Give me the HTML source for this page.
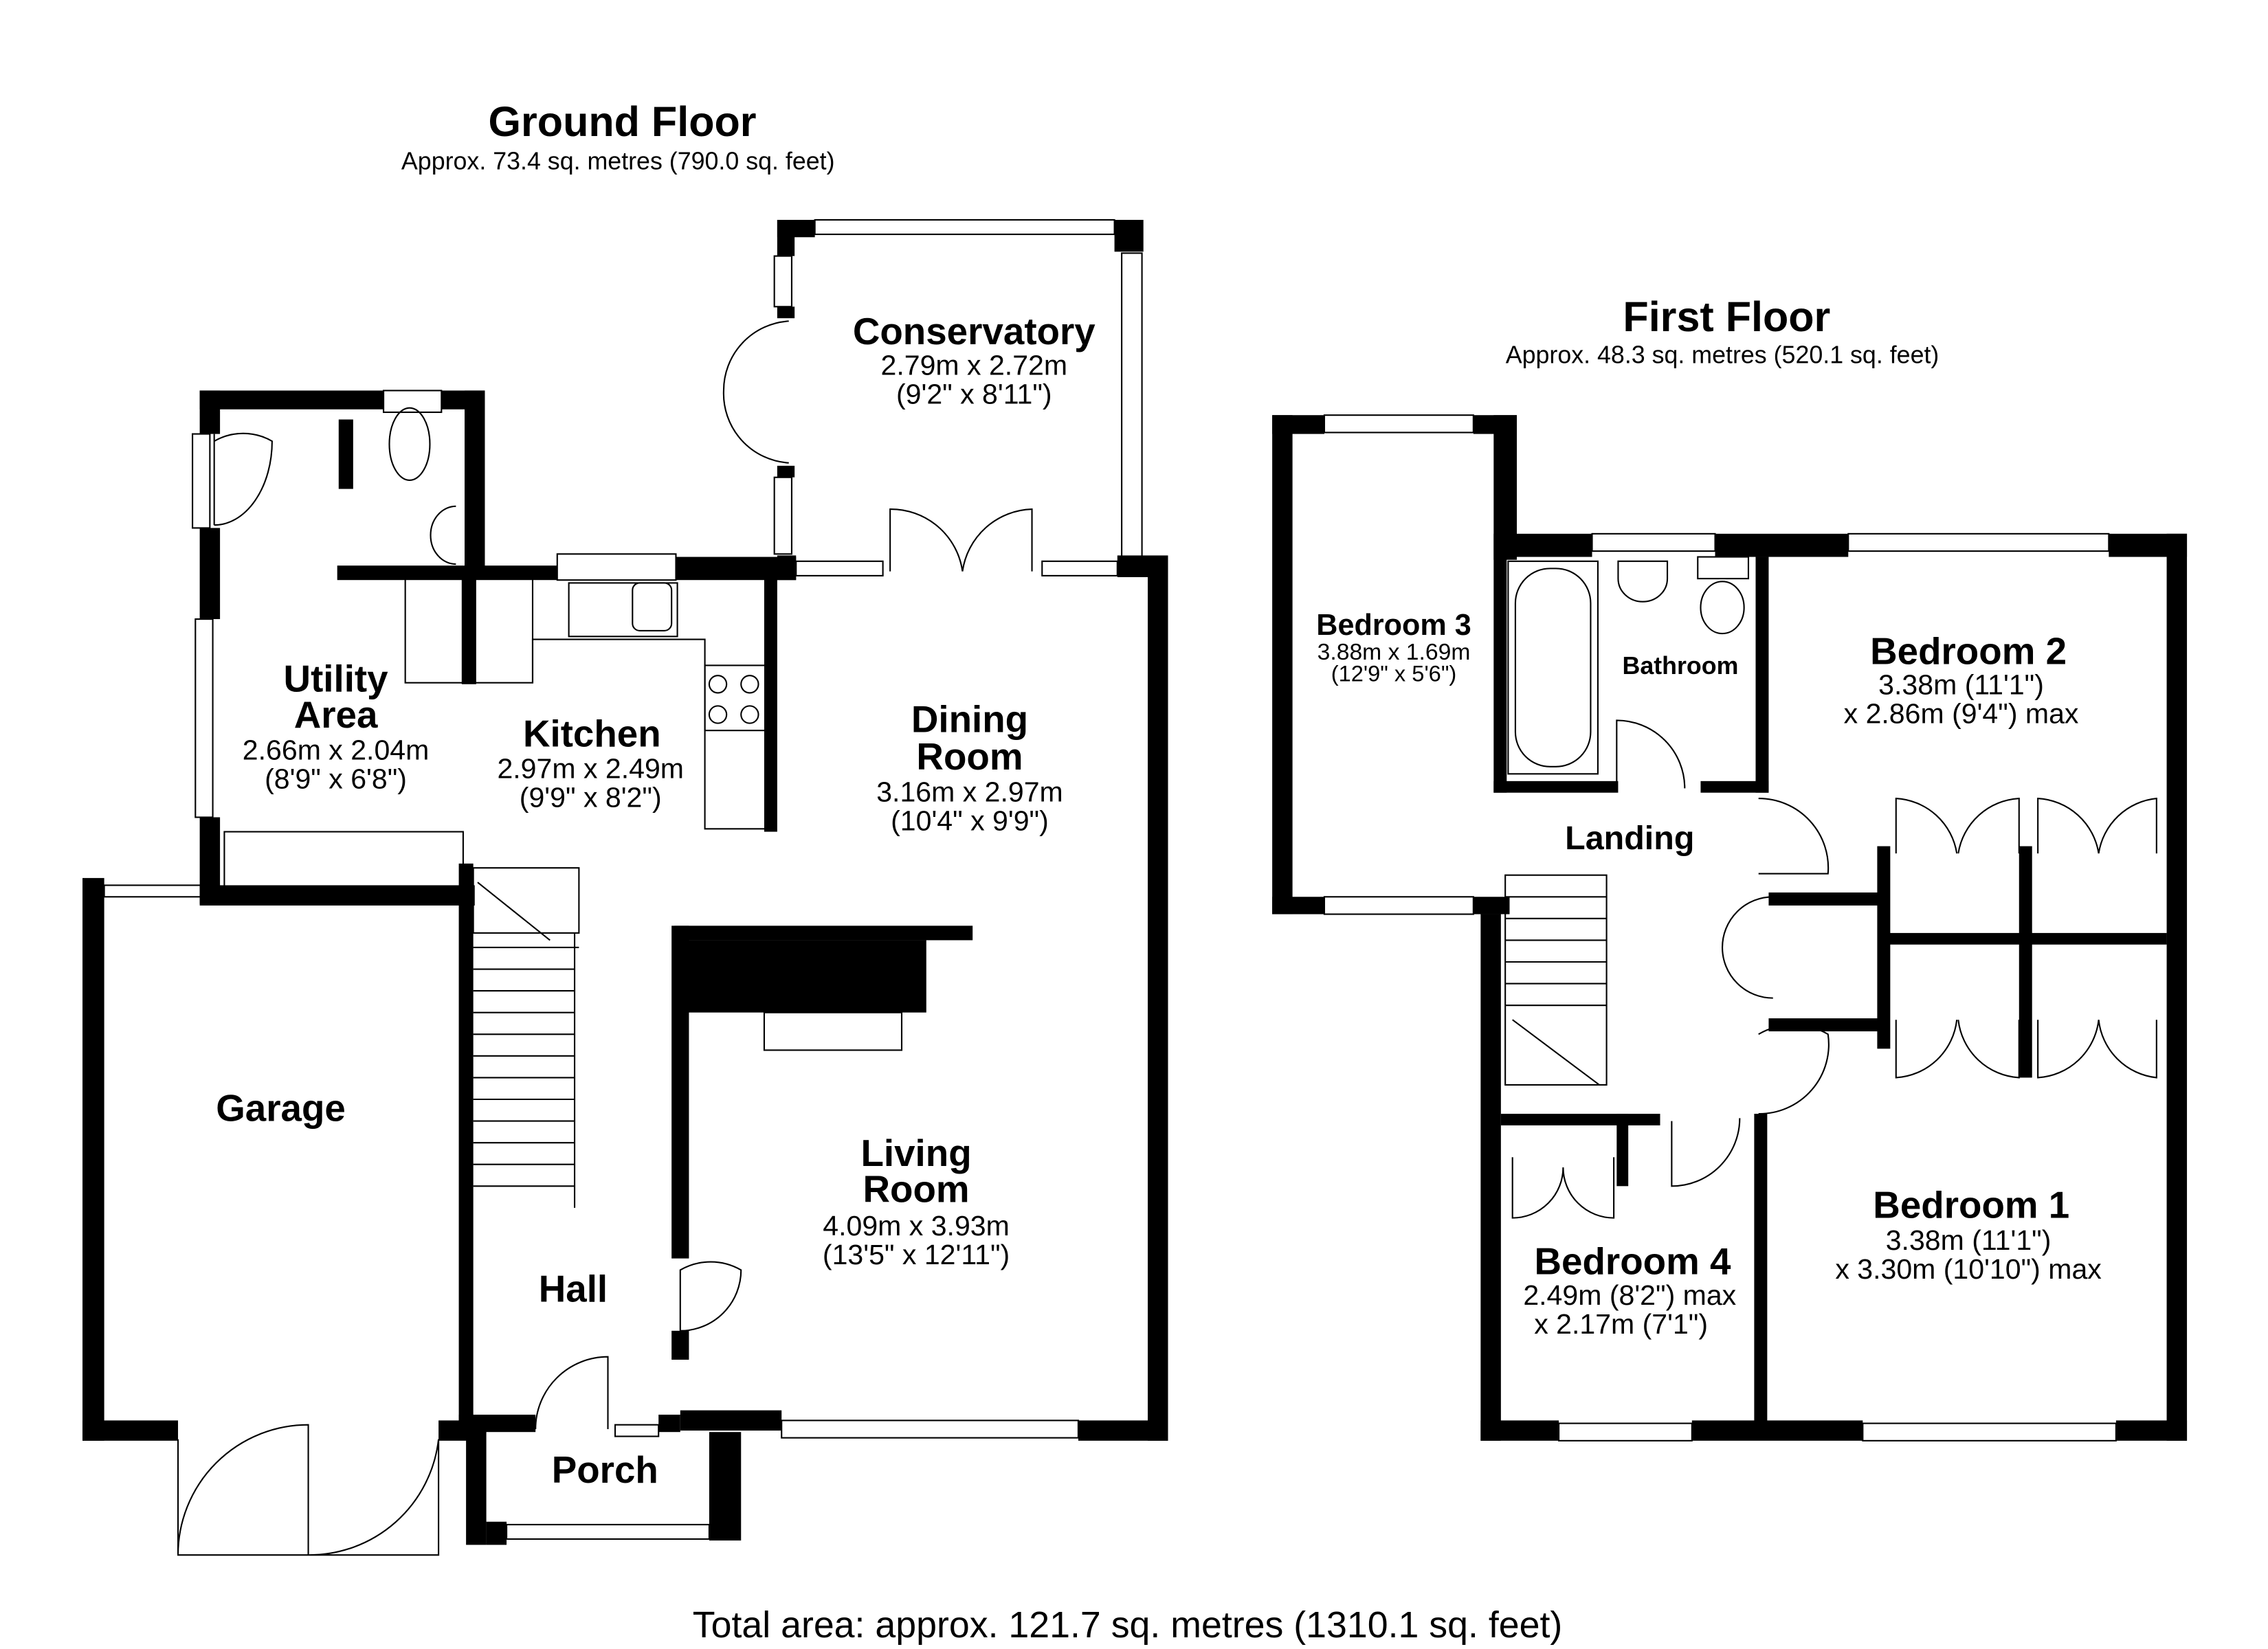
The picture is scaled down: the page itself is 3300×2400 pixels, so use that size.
<!DOCTYPE html>
<html><head><meta charset="utf-8"><style>
html,body{margin:0;padding:0;background:#fff}
svg{display:block}
text{font-family:"Liberation Sans",Arial,sans-serif;fill:#000;text-anchor:middle}
.t{font-weight:bold;font-size:26px}
.d{font-size:19.5px}
.s{font-size:17px}
</style></head><body>
<svg width="3300" height="2400" viewBox="0 0 1567 1140" preserveAspectRatio="none" xmlns="http://www.w3.org/2000/svg">
<rect width="1567" height="1140" fill="#fff"/>
<g fill="none" stroke="#000" stroke-width="1">
<rect x="385" y="383" width="82" height="18"/>
<rect x="393" y="403" width="75" height="37"/>
<rect x="280" y="400" width="88" height="72"/>
<polyline points="368,472 368,442 487,442 487,573 530,573"/>
<rect x="487" y="460" width="42" height="45"/>
<circle cx="496" cy="473" r="6"/><circle cx="518" cy="473" r="6"/><circle cx="496" cy="494" r="6"/><circle cx="518" cy="494" r="6"/>
<rect x="437" y="403" width="27" height="33" rx="5"/>
<rect x="155" y="575" width="165" height="45"/>
<rect x="265" y="270" width="40" height="15"/>
<ellipse cx="283" cy="307" rx="14" ry="25"/>
<path d="M315,350 a14,16 0 1,0 0,40"/>
<path d="M148,300 L148,363 M148,305 a40,40 0 0,1 40,0 L188,305 a40,58 0 0,1 -40,58"/>
<rect x="135" y="428" width="12" height="137"/><rect x="133" y="300" width="12" height="65"/>
<rect x="563" y="152" width="207" height="10"/>
<rect x="775" y="175" width="14" height="212"/>
<rect x="535" y="177" width="12" height="35"/><rect x="535" y="330" width="12" height="53"/>
<path d="M545,222 a48,48 0 0,0 -45,48 a48,48 0 0,0 45,50"/>
<rect x="550" y="388" width="60" height="10"/><rect x="720" y="388" width="52" height="10"/>
<path d="M615,395 L615,352 a50,50 0 0,1 50,43 M713,395 L713,352 a50,50 0 0,0 -48,43"/>
<rect x="327" y="600" width="73" height="45"/>
<g stroke-width="1">
<line x1="327" y1="655" x2="400" y2="655"/><line x1="327" y1="670" x2="397" y2="670"/><line x1="327" y1="685" x2="397" y2="685"/><line x1="327" y1="700" x2="397" y2="700"/><line x1="327" y1="715" x2="397" y2="715"/><line x1="327" y1="730" x2="397" y2="730"/><line x1="327" y1="745" x2="397" y2="745"/><line x1="327" y1="760" x2="397" y2="760"/><line x1="327" y1="775" x2="397" y2="775"/><line x1="327" y1="790" x2="397" y2="790"/><line x1="327" y1="805" x2="397" y2="805"/><line x1="327" y1="820" x2="397" y2="820"/>
<line x1="397" y1="645" x2="397" y2="835"/><line x1="330" y1="610" x2="380" y2="650"/>
</g>
<rect x="528" y="700" width="95" height="26"/>
<rect x="540" y="982" width="205" height="12"/>
<path d="M470,920 L470,878 a42,42 0 0,1 42,0 a42,42 0 0,1 -42,42"/>
<path d="M370,988 a50,50 0 0,1 50,-50 L420,988"/>
<rect x="350" y="1054" width="140" height="10"/>
<rect x="425" y="985" width="30" height="8"/>
<rect x="72" y="612" width="68" height="8"/>
<path d="M123,995 L123,1075 L213,1075 L213,985 A90,90 0 0,0 123,1075 M303,995 L303,1075 L213,1075 A90,90 0 0,0 303,995"/>
<rect x="915" y="287" width="103" height="12"/><rect x="915" y="620" width="103" height="12"/>
<rect x="1100" y="369" width="85" height="12"/><rect x="1277" y="369" width="180" height="12"/>
<rect x="1077" y="984" width="92" height="12"/><rect x="1287" y="984" width="175" height="12"/>
<rect x="1042" y="388" width="62" height="147"/><rect x="1047" y="393" width="52" height="137" rx="24"/>
<path d="M1118,388 L1152,388 L1152,400 a16,15 0 1,1 -34,0 Z"/>
<rect x="1173" y="385" width="35" height="15"/><ellipse cx="1190" cy="420" rx="15" ry="18"/>
<path d="M1117,545 L1117,498 a47,47 0 0,1 47,47"/>
<path d="M1215,552 a48,48 0 0,1 48,52 L1215,604"/>
<path d="M1225,620 a35,35 0 0,0 -35,35 a35,35 0 0,0 35,35"/>
<path d="M1215,715 a48,48 0 0,1 48,0 a48,48 0 0,1 -48,55"/>
<path d="M1155,775 L1155,820 a47,47 0 0,0 47,-47"/>
<path d="M1310,590 L1310,552 a45,45 0 0,1 42,38 M1395,590 L1395,552 a45,45 0 0,0 -42,38 M1408,590 L1408,552 a45,45 0 0,1 42,38 M1490,590 L1490,552 a45,45 0 0,0 -40,38"/>
<path d="M1310,705 L1310,745 a45,45 0 0,0 42,-40 M1395,705 L1395,745 a45,45 0 0,1 -42,-40 M1408,705 L1408,745 a45,45 0 0,0 42,-40 M1490,705 L1490,745 a45,45 0 0,1 -40,-40"/>
<path d="M1045,800 L1045,842 a35,35 0 0,0 35,-35 a35,35 0 0,0 35,35 L1115,800"/>
<rect x="1040" y="605" width="70" height="145"/>
<g stroke-width="1"><line x1="1040" y1="620" x2="1110" y2="620"/><line x1="1040" y1="635" x2="1110" y2="635"/><line x1="1040" y1="650" x2="1110" y2="650"/><line x1="1040" y1="665" x2="1110" y2="665"/><line x1="1040" y1="680" x2="1110" y2="680"/><line x1="1040" y1="695" x2="1110" y2="695"/><line x1="1045" y1="705" x2="1105" y2="750"/></g>
</g>
<g fill="#000">
<rect x="138" y="270" width="127" height="13"/><rect x="305" y="270" width="30" height="13"/>
<rect x="321" y="270" width="14" height="130"/>
<rect x="138" y="270" width="14" height="30"/><rect x="138" y="365" width="14" height="63"/><rect x="138" y="565" width="14" height="60"/>
<rect x="138" y="612" width="190" height="14"/>
<rect x="234" y="290" width="10" height="48"/>
<rect x="233" y="391" width="152" height="10"/><rect x="467" y="385" width="83" height="16"/>
<rect x="319" y="395" width="10" height="78"/>
<rect x="528" y="398" width="9" height="177"/>
<rect x="537" y="152" width="26" height="12"/><rect x="537" y="152" width="12" height="25"/><rect x="537" y="212" width="12" height="8"/><rect x="537" y="322" width="12" height="8"/>
<rect x="770" y="152" width="20" height="22"/>
<rect x="537" y="384" width="13" height="17"/><rect x="772" y="384" width="35" height="15"/>
<rect x="793" y="385" width="14" height="611"/>
<rect x="745" y="982" width="62" height="14"/>
<rect x="470" y="975" width="70" height="14"/>
<rect x="464" y="640" width="12" height="230"/><rect x="464" y="920" width="12" height="20"/>
<rect x="466" y="640" width="206" height="10"/>
<polygon points="472,650 640,650 640,700 472,700"/>
<rect x="317" y="597" width="10" height="397"/>
<rect x="317" y="978" width="53" height="12"/><rect x="455" y="978" width="15" height="12"/>
<rect x="322" y="985" width="14" height="83"/><rect x="490" y="990" width="22" height="75"/><rect x="336" y="1052" width="14" height="16"/>
<rect x="57" y="607" width="15" height="389"/><rect x="57" y="982" width="66" height="14"/><rect x="303" y="982" width="25" height="14"/>
<rect x="879" y="287" width="36" height="13"/><rect x="1018" y="287" width="30" height="13"/>
<rect x="879" y="287" width="14" height="345"/><rect x="879" y="620" width="36" height="12"/><rect x="1018" y="620" width="25" height="12"/>
<rect x="1032" y="287" width="16" height="100"/>
<rect x="1032" y="369" width="68" height="16"/><rect x="1185" y="369" width="92" height="16"/><rect x="1457" y="369" width="54" height="16"/>
<rect x="1032" y="385" width="9" height="163"/>
<rect x="1032" y="540" width="86" height="8"/><rect x="1175" y="540" width="47" height="8"/>
<rect x="1213" y="385" width="9" height="163"/>
<rect x="1497" y="369" width="14" height="627"/>
<rect x="1023" y="632" width="14" height="364"/>
<rect x="1023" y="982" width="54" height="14"/><rect x="1169" y="982" width="118" height="14"/><rect x="1462" y="982" width="49" height="14"/>
<rect x="1212" y="770" width="9" height="215"/>
<rect x="1037" y="770" width="110" height="8"/><rect x="1117" y="770" width="8" height="50"/>
<rect x="1222" y="617" width="83" height="9"/><rect x="1297" y="585" width="9" height="140"/>
<rect x="1305" y="645" width="192" height="8"/><rect x="1395" y="585" width="9" height="160"/>
<rect x="1222" y="704" width="83" height="9"/>
</g>
<text x="430" y="94" style="font-weight:bold;font-size:29px">Ground Floor</text>
<text x="427" y="117" class="s">Approx. 73.4 sq. metres (790.0 sq. feet)</text>
<text x="1193" y="229" style="font-weight:bold;font-size:29px">First Floor</text>
<text x="1190" y="251" class="s">Approx. 48.3 sq. metres (520.1 sq. feet)</text>
<text x="673" y="238" class="t">Conservatory</text>
<text x="673" y="259" class="d">2.79m x 2.72m</text>
<text x="673" y="279" class="d">(9'2" x 8'11")</text>
<text x="232" y="478" class="t">Utility</text>
<text x="232" y="503" class="t">Area</text>
<text x="232" y="525" class="d">2.66m x 2.04m</text>
<text x="232" y="545" class="d">(8'9" x 6'8")</text>
<text x="409" y="516" class="t">Kitchen</text>
<text x="408" y="538" class="d">2.97m x 2.49m</text>
<text x="408" y="558" class="d">(9'9" x 8'2")</text>
<text x="670" y="506" class="t">Dining</text>
<text x="670" y="532" class="t">Room</text>
<text x="670" y="554" class="d">3.16m x 2.97m</text>
<text x="670" y="574" class="d">(10'4" x 9'9")</text>
<text x="194" y="775" class="t">Garage</text>
<text x="633" y="806" class="t">Living</text>
<text x="633" y="831" class="t">Room</text>
<text x="633" y="854" class="d">4.09m x 3.93m</text>
<text x="633" y="874" class="d">(13'5" x 12'11")</text>
<text x="396" y="900" class="t">Hall</text>
<text x="418" y="1025" class="t">Porch</text>
<text x="963" y="439" style="font-weight:bold;font-size:20.5px">Bedroom 3</text>
<text x="963" y="456" style="font-size:16px">3.88m x 1.69m</text>
<text x="963" y="471" style="font-size:15.5px">(12'9" x 5'6")</text>
<text x="1161" y="466" style="font-weight:bold;font-size:17px">Bathroom</text>
<text x="1360" y="459" class="t">Bedroom 2</text>
<text x="1355" y="480" class="d">3.38m (11'1")</text>
<text x="1355" y="500" class="d">x 2.86m (9'4") max</text>
<text x="1126" y="587" style="font-weight:bold;font-size:23px">Landing</text>
<text x="1362" y="842" class="t">Bedroom 1</text>
<text x="1360" y="864" class="d">3.38m (11'1")</text>
<text x="1360" y="884" class="d">x 3.30m (10'10") max</text>
<text x="1128" y="881" class="t">Bedroom 4</text>
<text x="1126" y="902" class="d">2.49m (8'2") max</text>
<text x="1120" y="922" class="d">x 2.17m (7'1")</text>
<text x="779" y="1132" style="font-size:25.5px">Total area: approx. 121.7 sq. metres (1310.1 sq. feet)</text>
</svg>
</body></html>
